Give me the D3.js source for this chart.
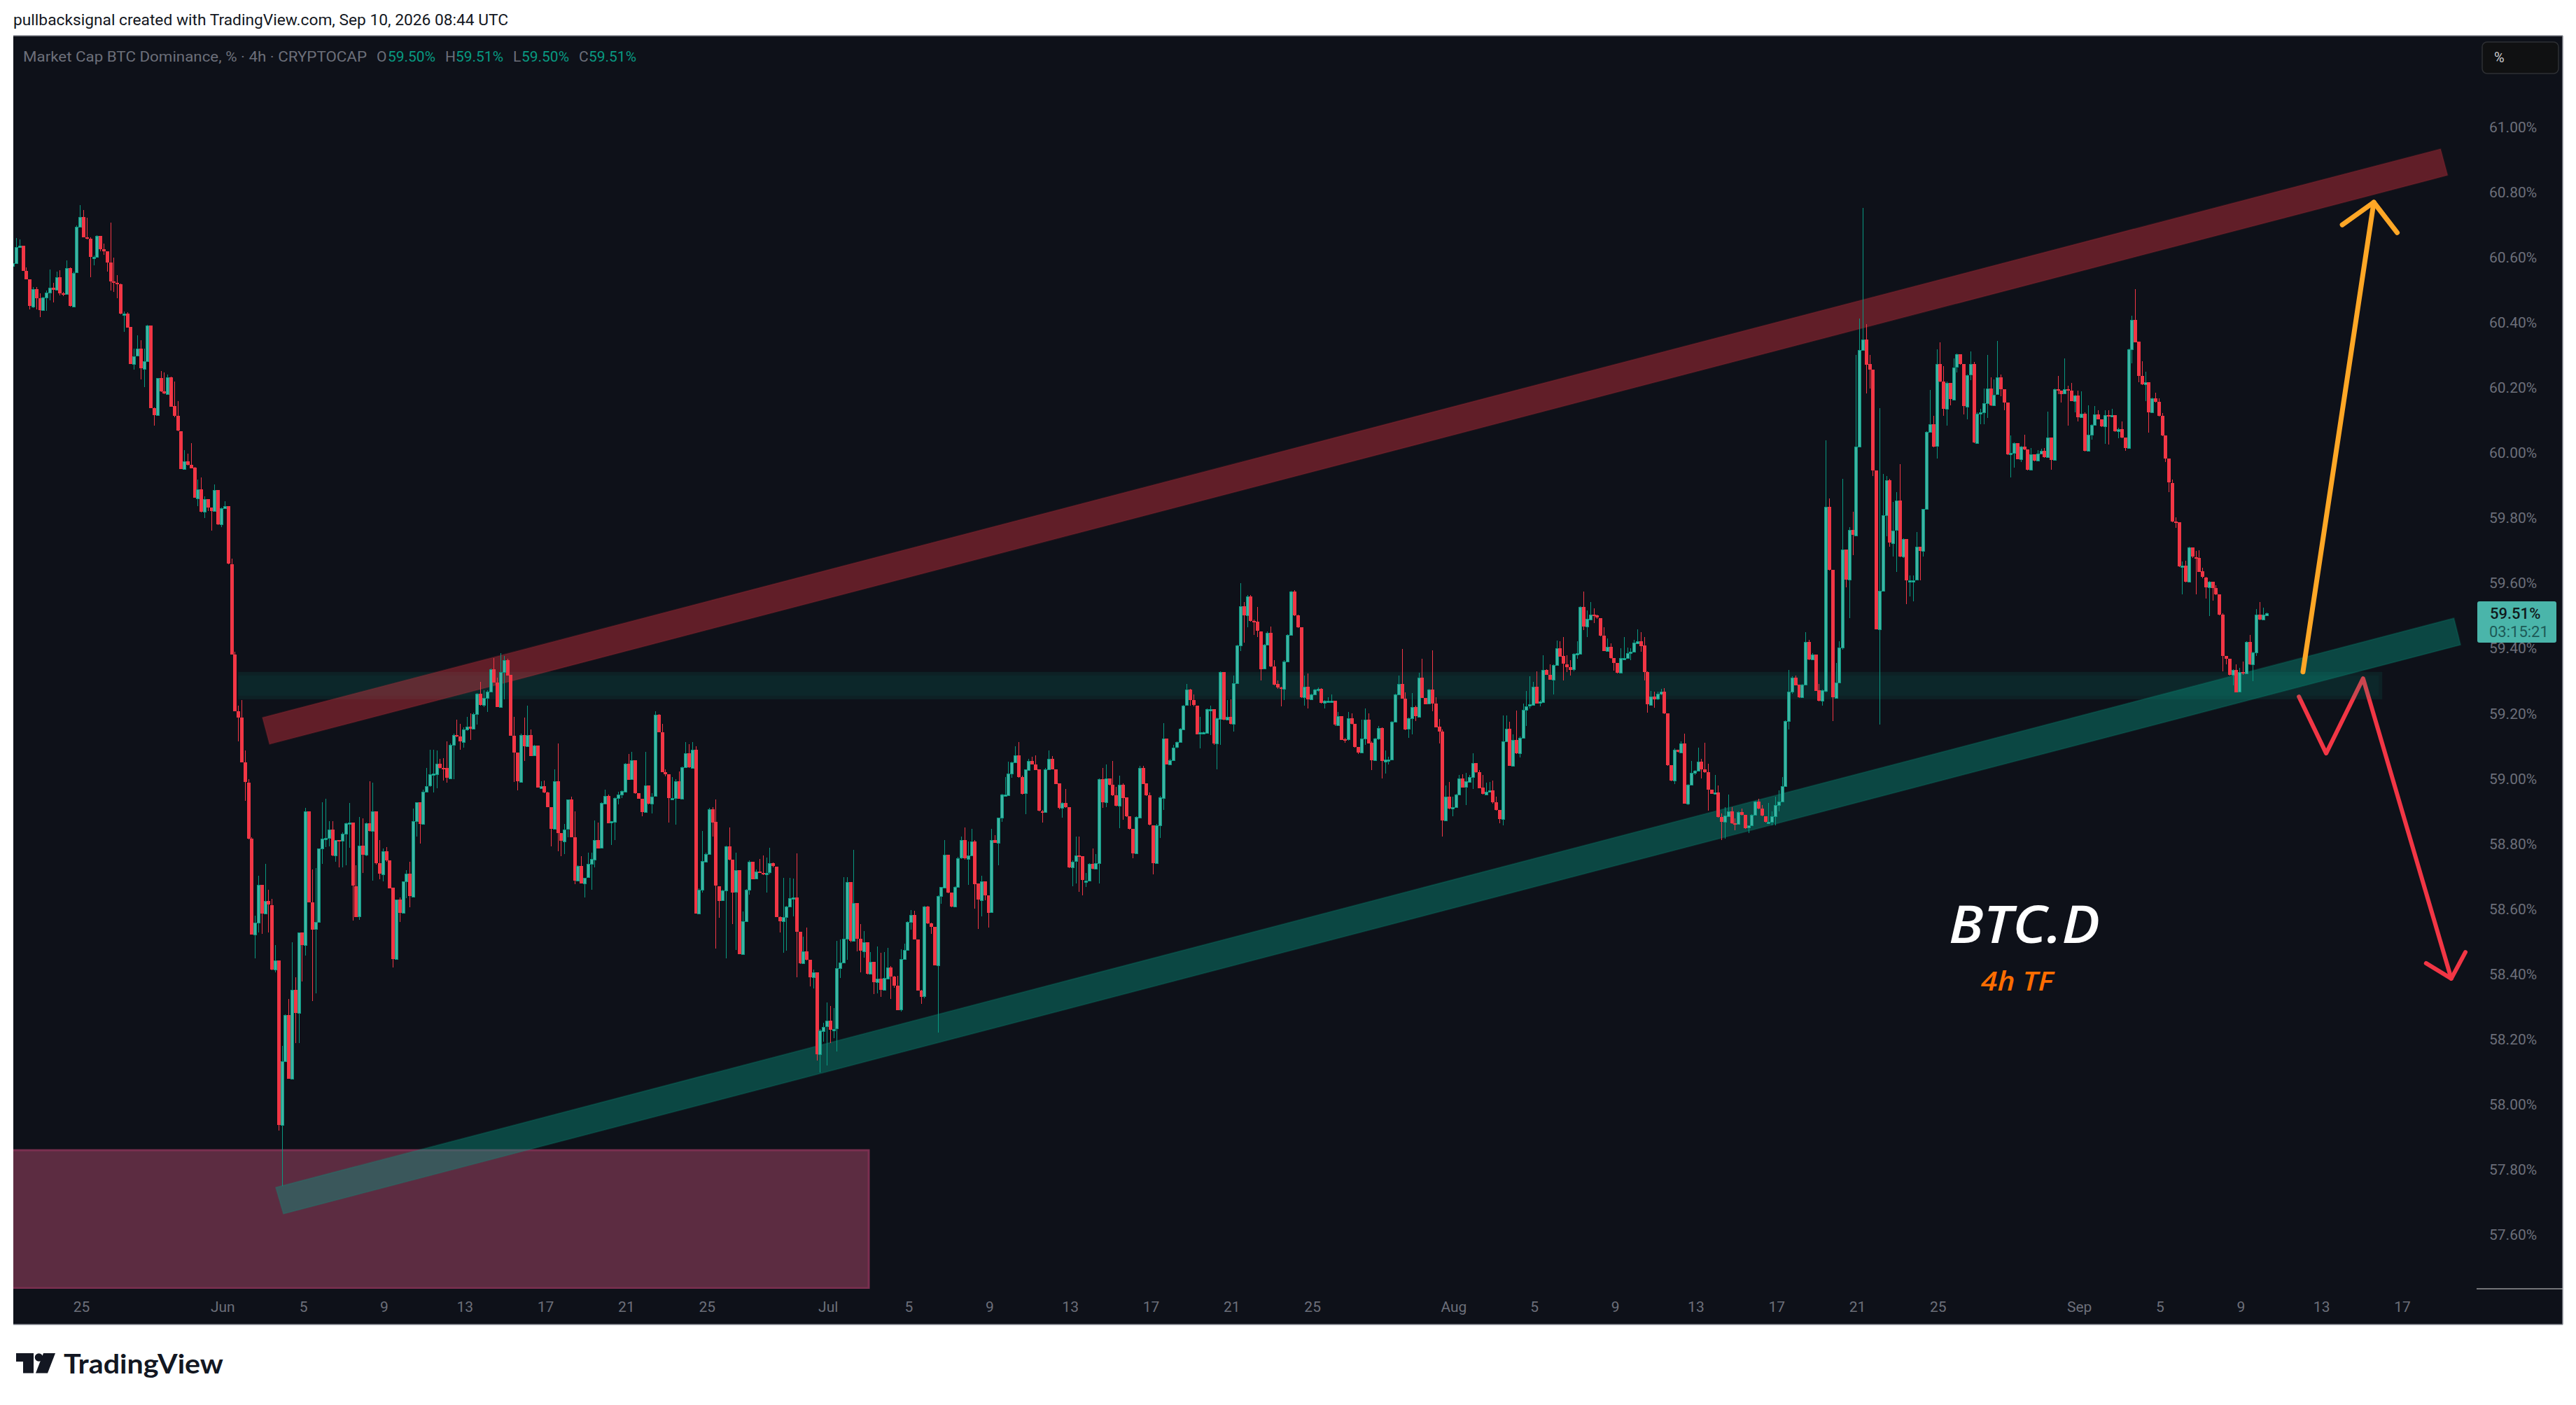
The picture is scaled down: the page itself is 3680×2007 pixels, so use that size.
<!DOCTYPE html>
<html><head><meta charset="utf-8">
<script src="https://cdn.jsdelivr.net/npm/d3@7"></script>
<style>html,body{margin:0;padding:0;background:#fff}svg{display:block}</style>
</head><body><svg id="c" width="3680" height="2007"></svg>
<script>
// ---------- candle data (%), 4h bars ----------
const firstOpen = 60.573;
const closesMay = [
60.581,60.631,60.634,60.557,60.531,60.449,60.502,60.473,60.437,60.476,
60.490,60.506,60.499,60.538,60.489,60.486,60.566,60.449,60.552,60.692,
60.722,60.660,60.657,60.601,60.601,60.665,60.624,60.617,60.583,60.526,
60.521,60.516,60.425,60.427,60.385,60.272,60.296,60.318,60.257,60.281,
60.390,60.136,60.114,60.228,60.188,60.181,60.232,60.142,60.112,60.066,
59.949,59.973,59.963,59.953,59.861,59.888,59.820,59.858,59.832,59.821,
59.885,59.780,59.829,59.835,59.658,59.380,59.207,59.187,59.049,58.988,
58.816];
const highsMay = [
60.584,60.658,60.655,60.634,60.569,60.532,60.507,60.509,60.488,60.478,
60.497,60.562,60.521,60.555,60.559,60.492,60.590,60.569,60.555,60.698,
60.759,60.745,60.721,60.660,60.605,60.668,60.665,60.641,60.617,60.706,
60.598,60.545,60.518,60.432,60.430,60.385,60.320,60.360,60.344,60.320,
60.392,60.390,60.138,60.229,60.250,60.246,60.239,60.234,60.219,60.157,
60.066,60.008,59.997,60.029,59.955,59.917,59.923,59.866,59.858,59.832,
59.902,59.885,59.832,59.850,59.835,59.674,59.389,59.223,59.241,59.087,
58.998];
const lowsMay = [
60.571,60.581,60.631,60.557,60.531,60.440,60.444,60.440,60.416,60.435,
60.435,60.468,60.461,60.497,60.483,60.480,60.486,60.447,60.449,60.552,
60.692,60.660,60.655,60.538,60.574,60.601,60.617,60.607,60.555,60.497,
60.492,60.473,60.425,60.371,60.385,60.272,60.255,60.296,60.224,60.200,
60.281,60.136,60.083,60.114,60.186,60.179,60.179,60.140,60.109,60.066,
59.949,59.949,59.960,59.953,59.861,59.835,59.816,59.799,59.820,59.760,
59.821,59.778,59.772,59.827,59.658,59.380,59.207,59.113,59.049,58.931,
58.813];

const closesJun = [
58.521,58.557,58.673,58.585,58.623,58.612,58.414,58.441,57.937,58.132,
58.274,58.079,58.351,58.281,58.527,58.489,58.900,58.620,58.537,58.559,
58.785,58.816,58.818,58.843,58.763,58.811,58.809,58.830,58.862,58.864,
58.670,58.575,58.793,58.766,58.862,58.838,58.899,58.739,58.706,58.776,
58.749,58.664,58.445,58.628,58.588,58.684,58.707,58.638,58.870,58.928,
58.862,58.960,58.977,59.012,59.014,59.046,59.033,59.032,59.001,59.104,
59.134,59.129,59.113,59.151,59.159,59.153,59.198,59.260,59.225,59.247,
59.266,59.335,59.295,59.220,59.327,59.364,59.317,59.130,59.079,58.990,
59.134,59.099,59.134,59.070,59.100,58.971,58.977,58.957,58.912,58.846,
58.992,58.832,58.808,58.844,58.935,58.819,58.686,58.732,58.679,58.696,
58.737,58.752,58.812,58.787,58.924,58.947,58.864,58.868,58.940,58.950,
58.961,59.046,58.996,59.055,58.955,58.938,58.897,58.979,58.923,58.945,
59.195,59.142,59.019,59.012,58.938,58.940,58.992,58.938,59.034,59.078,
59.034,59.089,58.586];
const highsJun = [
58.820,58.578,58.701,58.673,58.738,58.658,58.630,58.489,58.441,58.179,
58.276,58.323,58.497,58.390,58.527,58.527,58.910,58.900,58.721,58.725,
58.785,58.926,58.938,58.868,58.868,58.811,58.811,58.835,58.864,58.924,
58.864,58.734,58.881,58.878,58.864,58.991,58.988,58.899,58.811,58.785,
58.789,58.749,58.664,58.628,58.634,58.684,58.719,58.744,58.907,58.928,
58.928,58.965,59.032,59.089,59.089,59.086,59.060,59.062,59.113,59.108,
59.137,59.180,59.168,59.156,59.190,59.200,59.202,59.262,59.297,59.271,
59.271,59.337,59.370,59.310,59.384,59.377,59.367,59.317,59.190,59.079,
59.137,59.187,59.223,59.151,59.103,59.100,58.991,58.993,58.960,58.912,
59.027,59.108,58.832,58.861,58.936,58.944,58.899,58.734,58.761,58.696,
58.773,58.773,58.871,58.864,58.926,58.966,58.950,58.868,58.942,58.960,
58.964,59.048,59.075,59.081,59.055,58.954,58.938,59.081,58.979,58.955,
59.207,59.197,59.168,59.027,59.012,59.005,58.998,59.022,59.036,59.112,
59.105,59.112,59.098];
const lowsJun = [
58.521,58.448,58.528,58.523,58.583,58.528,58.412,58.405,57.919,57.750,
58.132,58.079,58.079,58.187,58.188,58.378,58.457,58.620,58.317,58.341,
58.559,58.738,58.790,58.792,58.762,58.745,58.728,58.728,58.734,58.787,
58.564,58.575,58.567,58.711,58.762,58.837,58.686,58.735,58.691,58.684,
58.744,58.662,58.420,58.445,58.560,58.585,58.632,58.605,58.638,58.821,
58.801,58.862,58.960,58.974,58.957,58.969,59.031,58.993,58.988,59.001,
58.998,59.127,59.089,59.094,59.147,59.118,59.153,59.166,59.223,59.219,
59.204,59.266,59.295,59.219,59.220,59.242,59.315,59.130,58.990,58.964,
58.990,59.054,59.099,59.070,59.070,58.971,58.971,58.955,58.912,58.792,
58.846,58.777,58.761,58.768,58.819,58.819,58.676,58.686,58.677,58.635,
58.696,58.659,58.727,58.787,58.787,58.924,58.862,58.795,58.811,58.921,
58.940,58.961,58.995,58.996,58.953,58.937,58.883,58.897,58.921,58.892,
58.945,59.142,59.019,59.007,58.864,58.938,58.859,58.937,58.938,59.032,
59.032,59.034,58.586];

const closesJul = [
58.658,58.746,58.769,58.906,58.866,58.670,58.625,58.656,58.791,58.751,
58.651,58.718,58.460,58.562,58.658,58.745,58.692,58.714,58.711,58.706,
58.711,58.739,58.730,58.575,58.562,58.575,58.607,58.633,58.635,58.529,
58.433,58.469,58.444,58.390,58.404,58.152,58.226,58.238,58.256,58.227,
58.232,58.417,58.434,58.507,58.681,58.500,58.617,58.508,58.471,58.498,
58.401,58.438,58.375,58.385,58.351,58.387,58.421,58.392,58.365,58.290,
58.445,58.473,58.559,58.581,58.505,58.349,58.330,58.606,58.555,58.545,
58.426,58.639,58.666,58.766,58.649,58.607,58.668,58.756,58.810,58.754,
58.764,58.807,58.677,58.627,58.685,58.642,58.589,58.810,58.802,58.879,
58.950,58.950,59.016,59.050,59.071,59.005,58.954,59.027,59.054,59.044,
59.027,58.900,58.898,59.029,59.061,59.029,58.984,58.908,58.924,58.912,
58.728,58.745,58.763,58.761,58.687,58.687,58.738,58.722,58.740,58.998,
58.927,59.000,58.980,58.948,58.916,58.981,58.941,58.884,58.845,58.770,
58.881,59.033,58.984,58.948,58.857,58.740,58.855,58.941,59.123,59.044,
59.056,59.095,59.111,59.152,59.224,59.272,59.240,59.224,59.136,59.141,
59.141,59.213,59.213,59.107,59.184,59.327,59.181,59.190,59.168,59.293,
59.408,59.529,59.500,59.558,59.483,59.481,59.452,59.337,59.411,59.447,
59.344,59.289,59.279,59.274,59.358,59.440,59.574,59.500,59.464,59.250,
59.282,59.243,59.258,59.272,59.274,59.231,59.238,59.238,59.238,59.164,
59.192,59.120,59.119,59.184,59.167,59.097,59.080,59.123,59.181,59.109,
59.056,59.123,59.155,59.053,59.059,59.059,59.174,59.258,59.291];
const highsJul = [
58.663,58.839,58.773,58.910,58.912,58.936,58.670,58.658,58.793,58.849,
58.751,58.773,58.718,58.591,58.660,58.749,58.745,58.721,58.754,58.764,
58.757,58.788,58.742,58.730,58.577,58.694,58.610,58.694,58.692,58.771,
58.529,58.514,58.543,58.444,58.414,58.404,58.231,58.250,58.312,58.302,
58.295,58.501,58.505,58.697,58.697,58.681,58.781,58.617,58.553,58.532,
58.498,58.467,58.438,58.484,58.465,58.467,58.480,58.424,58.394,58.394,
58.476,58.493,58.562,58.596,58.594,58.505,58.352,58.610,58.610,58.558,
58.545,58.642,58.668,58.812,58.766,58.649,58.670,58.759,58.821,58.849,
58.807,58.845,58.812,58.677,58.701,58.685,58.642,58.845,58.826,58.879,
58.953,59.004,59.051,59.052,59.099,59.111,59.008,59.029,59.061,59.066,
59.071,59.027,58.903,59.032,59.085,59.068,59.029,58.984,58.927,58.967,
58.912,58.749,58.821,58.822,58.761,58.711,58.740,58.785,58.769,58.999,
59.032,59.044,59.001,59.053,58.975,59.008,58.984,58.941,58.884,58.845,
58.884,59.039,59.039,58.984,58.956,58.857,58.860,58.946,59.169,59.123,
59.061,59.104,59.114,59.154,59.226,59.291,59.275,59.258,59.224,59.190,
59.144,59.215,59.224,59.213,59.186,59.328,59.327,59.241,59.243,59.315,
59.411,59.600,59.541,59.563,59.563,59.488,59.526,59.452,59.413,59.451,
59.466,59.363,59.301,59.282,59.363,59.442,59.576,59.577,59.502,59.464,
59.315,59.322,59.260,59.275,59.279,59.277,59.240,59.250,59.258,59.238,
59.205,59.192,59.125,59.205,59.200,59.167,59.097,59.180,59.214,59.200,
59.114,59.125,59.162,59.157,59.085,59.066,59.176,59.260,59.315];
const lowsJul = [
58.586,58.649,58.745,58.767,58.821,58.478,58.572,58.623,58.447,58.749,
58.553,58.473,58.460,58.471,58.562,58.644,58.690,58.690,58.709,58.704,
58.649,58.706,58.728,58.575,58.527,58.465,58.471,58.607,58.577,58.390,
58.431,58.431,58.442,58.361,58.356,58.134,58.098,58.193,58.120,58.189,
58.204,58.163,58.388,58.433,58.444,58.498,58.500,58.469,58.404,58.451,
58.399,58.401,58.338,58.340,58.330,58.351,58.387,58.324,58.358,58.290,
58.285,58.445,58.473,58.535,58.505,58.349,58.308,58.326,58.553,58.523,
58.426,58.220,58.615,58.666,58.647,58.605,58.605,58.668,58.754,58.751,
58.673,58.761,58.601,58.538,58.577,58.627,58.543,58.589,58.802,58.733,
58.866,58.946,58.950,59.002,59.047,59.003,58.951,58.890,59.025,59.042,
59.025,58.898,58.864,58.896,59.029,59.027,58.984,58.906,58.879,58.910,
58.725,58.670,58.677,58.651,58.641,58.668,58.687,58.720,58.722,58.677,
58.910,58.912,58.978,58.946,58.914,58.847,58.874,58.882,58.843,58.756,
58.770,58.881,58.984,58.946,58.855,58.706,58.740,58.818,58.903,59.042,
59.042,59.056,59.092,59.109,59.152,59.224,59.224,59.222,59.135,59.092,
59.138,59.141,59.133,59.104,59.029,59.104,59.179,59.179,59.166,59.143,
59.291,59.392,59.416,59.464,59.481,59.440,59.435,59.301,59.337,59.411,
59.342,59.286,59.275,59.222,59.240,59.358,59.440,59.499,59.462,59.248,
59.224,59.214,59.241,59.256,59.267,59.229,59.214,59.231,59.236,59.162,
59.162,59.119,59.109,59.116,59.165,59.095,59.075,59.085,59.104,59.107,
59.025,59.054,59.119,59.000,59.015,59.042,59.059,59.174,59.258];

const closesAug = [
59.245,59.151,59.184,59.219,59.190,59.310,59.248,59.229,59.273,59.230,
59.158,59.143,58.870,58.944,58.907,58.911,58.950,59.000,58.973,58.991,
59.005,59.047,59.020,58.971,58.952,58.960,58.963,58.926,58.903,58.876,
59.114,59.153,59.040,59.119,59.078,59.125,59.211,59.222,59.227,59.282,
59.231,59.236,59.334,59.319,59.304,59.349,59.400,59.375,59.351,59.342,
59.334,59.382,59.384,59.527,59.466,59.489,59.503,59.500,59.493,59.439,
59.392,59.404,59.369,59.355,59.324,59.370,59.370,59.384,59.388,59.416,
59.422,59.408,59.326,59.227,59.252,59.244,59.259,59.266,59.199,59.040,
58.993,59.088,59.081,59.108,58.923,58.981,59.018,59.024,59.051,59.028,
59.020,58.966,58.954,58.956,58.881,58.866,58.886,58.900,58.863,58.860,
58.897,58.888,58.848,58.855,58.888,58.929,58.907,58.885,58.867,58.867,
58.885,58.919,58.930,58.977,59.176,59.267,59.310,59.287,59.248,59.287,
59.418,59.365,59.381,59.270,59.238,59.270,59.834,59.640,59.248,59.295,
59.402,59.703,59.610,59.762,59.747];
const highsAug = [
59.398,59.264,59.186,59.262,59.223,59.324,59.367,59.248,59.274,59.394,
59.250,59.182,59.151,58.978,58.989,58.945,58.952,59.011,59.012,59.018,
59.010,59.077,59.048,59.026,59.010,58.987,58.990,58.993,58.944,58.903,
59.194,59.193,59.173,59.135,59.209,59.129,59.229,59.268,59.314,59.297,
59.328,59.240,59.379,59.336,59.351,59.351,59.423,59.421,59.435,59.379,
59.363,59.384,59.421,59.529,59.573,59.515,59.542,59.523,59.503,59.493,
59.463,59.429,59.414,59.369,59.355,59.400,59.435,59.402,59.400,59.425,
59.457,59.449,59.433,59.328,59.268,59.267,59.267,59.275,59.277,59.199,
59.040,59.092,59.089,59.114,59.137,58.983,59.053,59.026,59.094,59.060,
59.110,59.045,58.966,59.011,58.978,58.893,58.911,58.950,58.911,58.878,
58.899,58.907,58.888,58.857,58.890,58.931,58.938,58.919,58.885,58.925,
58.899,58.944,58.964,59.005,59.178,59.334,59.314,59.315,59.287,59.291,
59.449,59.426,59.384,59.381,59.289,59.273,60.038,59.860,59.640,59.355,
59.421,59.919,59.703,59.772,59.819];
const lowsAug = [
59.244,59.149,59.125,59.135,59.176,59.190,59.246,59.227,59.230,59.207,
59.156,59.108,58.822,58.870,58.905,58.885,58.911,58.950,58.971,58.919,
58.990,58.968,59.018,58.969,58.950,58.950,58.960,58.923,58.901,58.863,
58.855,59.114,59.038,59.040,59.076,59.065,59.125,59.162,59.215,59.227,
59.230,59.221,59.236,59.317,59.302,59.258,59.349,59.373,59.301,59.326,
59.315,59.329,59.367,59.384,59.456,59.433,59.489,59.476,59.490,59.437,
59.390,59.390,59.367,59.330,59.322,59.324,59.367,59.367,59.363,59.386,
59.415,59.389,59.300,59.203,59.225,59.218,59.240,59.256,59.197,59.038,
58.991,58.982,59.079,59.080,58.922,58.919,58.981,59.010,59.024,59.001,
59.018,58.901,58.952,58.954,58.879,58.810,58.816,58.886,58.861,58.841,
58.858,58.886,58.845,58.833,58.854,58.887,58.905,58.883,58.865,58.865,
58.857,58.855,58.900,58.930,58.977,59.151,59.259,59.285,59.246,59.246,
59.287,59.364,59.365,59.268,59.236,59.223,59.264,59.638,59.176,59.246,
59.293,59.396,59.587,59.492,59.685];

const closesSep = [
60.019,60.315,60.348,60.271,60.254,59.945,59.457,59.575,59.807,59.915,
59.723,59.761,59.852,59.681,59.734,59.607,59.608,59.608,59.710,59.697,
59.826,60.063,60.087,60.019,60.271,60.218,60.134,60.214,60.164,60.262,
60.301,60.271,60.142,60.238,60.271,60.030,60.120,60.123,60.151,60.197,
60.145,60.178,60.230,60.194,60.153,59.994,59.999,60.030,59.981,60.019,
60.010,59.947,59.994,59.975,59.997,60.005,59.986,60.046,59.978,60.194,
60.191,60.181,60.194,60.191,60.159,60.176,60.109,60.120,60.006,60.055,
60.085,60.118,60.103,60.081,60.115,60.112,60.115,60.065,60.072,60.046,
60.014,60.317,60.408,60.340,60.235,60.209,60.216,60.123,60.166,60.155,
60.112,60.052,59.981,59.907,59.788,59.786,59.650,59.652,59.603,59.708,
59.679,59.677,59.635,59.617,59.586,59.603,59.584,59.564,59.502,59.376,
59.367,59.318,59.334,59.266,59.326,59.322,59.418,59.350,59.386,59.502,
59.487,59.502,59.508];
const highsSep = [
60.299,60.411,60.750,60.395,60.299,60.254,59.945,60.137,59.934,59.928,
59.920,59.849,59.879,59.964,59.736,59.734,59.624,59.622,59.756,59.710,
59.828,60.065,60.192,60.112,60.317,60.339,60.266,60.218,60.214,60.290,
60.304,60.301,60.271,60.240,60.310,60.279,60.123,60.134,60.197,60.299,
60.231,60.225,60.342,60.240,60.194,60.153,60.052,60.032,60.030,60.021,
60.055,60.010,60.014,59.994,60.008,60.012,60.014,60.126,60.046,60.196,
60.236,60.191,60.288,60.205,60.213,60.178,60.191,60.187,60.123,60.145,
60.087,60.142,60.131,60.103,60.129,60.131,60.134,60.115,60.076,60.096,
60.046,60.320,60.420,60.501,60.340,60.280,60.249,60.216,60.168,60.183,
60.167,60.121,60.052,59.981,59.918,59.802,59.786,59.666,59.668,59.710,
59.708,59.699,59.701,59.646,59.619,59.605,59.603,59.592,59.564,59.506,
59.376,59.367,59.336,59.351,59.340,59.359,59.420,59.440,59.388,59.520,
59.541,59.524,59.509];
const lowsSep = [
59.747,60.019,60.315,60.181,60.197,59.928,59.457,59.166,59.575,59.743,
59.712,59.681,59.633,59.679,59.677,59.535,59.559,59.544,59.608,59.608,
59.681,59.826,60.063,60.017,59.981,60.216,60.112,60.082,60.145,60.164,
60.246,60.269,60.118,60.103,60.222,60.028,60.030,60.087,60.088,60.107,
60.143,60.145,60.178,60.172,60.131,59.992,59.924,59.953,59.979,59.970,
60.008,59.945,59.947,59.973,59.975,59.995,59.984,59.986,59.948,59.978,
60.180,60.154,60.181,60.083,60.157,60.123,60.096,60.107,60.004,60.006,
60.039,60.082,60.101,60.079,60.027,60.025,60.111,60.063,60.044,60.044,
60.005,60.014,60.274,60.338,60.216,60.207,60.158,60.061,60.121,60.153,
60.110,60.050,59.970,59.879,59.786,59.769,59.648,59.566,59.601,59.603,
59.677,59.564,59.633,59.615,59.553,59.498,59.546,59.562,59.500,59.329,
59.350,59.316,59.285,59.264,59.266,59.318,59.322,59.348,59.298,59.375,
59.485,59.487,59.500];

// ---------- axes ----------
const priceTicks = [61,60.8,60.6,60.4,60.2,60,59.8,59.6,59.4,59.2,59,58.8,58.6,58.4,58.2,58,57.8,57.6];
const timeTickDays = [0,7,11,15,19,23,27,31,37,41,45,49,53,57,61,68,72,76,80,84,88,92,99,103,107,111,115];
const timeTickLabels = ["25","Jun","5","9","13","17","21","25","Jul","5","9","13","17","21","25","Aug","5","9","13","17","21","25","Sep","5","9","13","17"];

// ---------- drawings [days since 25 May, price] ----------
const resistanceChannel = [[9.04,59.187],[116.97,60.932],[117.32,60.851],[9.39,59.105]];
const supportChannel = [[9.70,57.745],[117.63,59.492],[117.96,59.410],[10.08,57.664]];
const flipZone = {d0:7.83,d1:114.08,p0:59.327,p1:59.243};
const demandBox = {d0:-5,d1:39.08,p0:57.859,p1:57.436};
const bullArrow = [[110.15,59.327],[113.66,60.768]];
const bullHead = [[112.1,60.699],[113.66,60.768],[114.82,60.675]];
const bearPath = [[109.95,59.251],[111.3,59.077],[113.13,59.307],[117.5,58.386]];
const bearHead = [[116.25,58.433],[117.5,58.386],[118.2,58.467]];

// ---------- assemble ----------
const closes = [].concat(closesMay,closesJun,closesJul,closesAug,closesSep);
const highs = [].concat(highsMay,highsJun,highsJul,highsAug,highsSep);
const lows = [].concat(lowsMay,lowsJun,lowsJul,lowsAug,lowsSep);
const lastDay = 108 + 8/24;           // Sep 10 08:00
const N = closes.length;
const candles = closes.map((c,i)=>({
  day:lastDay-(N-1-i)/6, o:i?closes[i-1]:firstOpen, c, h:highs[i], l:lows[i]}));

const PL=19,PR=3661,PT=51,PB=1892,AXIS=3538,TIMEY=1841;
const x = d3.scaleLinear().domain([0,108]).range([114.3,114.3+108*28.83]);
const y = d3.scaleLinear().domain([61,57.6]).range([181,181+3.4*465.5]);

const svg = d3.select('#c');
const BG='#0e1119', UP='#089981', UPF='#3fb3a3', DN='#f23645', GREY='#6c6f7a';
svg.append('rect').attr('width',3680).attr('height',2007).attr('fill','#fff');
svg.append('rect').attr('x',PL).attr('y',PT).attr('width',PR-PL).attr('height',PB-PT).attr('fill',BG);
svg.append('defs').append('clipPath').attr('id','plot').append('rect')
  .attr('x',PL).attr('y',PT).attr('width',AXIS-PL+140).attr('height',TIMEY-PT);
// frame
const frame=svg.append('g').attr('stroke','#8a8d96').attr('stroke-width',1.5);
frame.append('line').attr('x1',PL).attr('x2',PR).attr('y1',PT).attr('y2',PT);
frame.append('line').attr('x1',PL).attr('x2',PR).attr('y1',PB).attr('y2',PB);
frame.append('line').attr('x1',PR).attr('x2',PR).attr('y1',PT).attr('y2',PB);
svg.append('line').attr('x1',AXIS).attr('x2',PR).attr('y1',TIMEY).attr('y2',TIMEY).attr('stroke','#d8d8d8').attr('stroke-width',1.2);

const plot = svg.append('g').attr('clip-path','url(#plot)');
const poly = pts => d3.line().x(p=>x(p[0])).y(p=>y(p[1]))(pts)+'Z';
const open = pts => d3.line().x(p=>x(p[0])).y(p=>y(p[1]))(pts);

// demand box
plot.append('rect').attr('x',x(demandBox.d0)).attr('y',y(demandBox.p0))
  .attr('width',x(demandBox.d1)-x(demandBox.d0)).attr('height',y(demandBox.p1)-y(demandBox.p0))
  .attr('fill','rgba(209,85,125,.4)').attr('stroke','#7a2f50').attr('stroke-width',3);

// bearish zigzag lies under the green drawings
const stroke = (pts,col,w)=>plot.append('path').attr('d',open(pts)).attr('fill','none').attr('stroke',col)
  .attr('stroke-width',w).attr('stroke-linecap','round').attr('stroke-linejoin','round');
stroke(bearPath,DN,6); stroke(bearHead,DN,6);

// flip zone
plot.append('rect').attr('x',x(flipZone.d0)).attr('y',y(flipZone.p0))
  .attr('width',x(flipZone.d1)-x(flipZone.d0)).attr('height',y(flipZone.p1)-y(flipZone.p0))
  .attr('fill','rgba(8,153,129,.12)');
plot.append('rect').attr('x',x(flipZone.d0)).attr('y',y(flipZone.p0)+5)
  .attr('width',x(flipZone.d1)-x(flipZone.d0)-5).attr('height',y(flipZone.p1)-y(flipZone.p0)-10)
  .attr('fill','rgba(8,153,129,.05)');

// channels
plot.append('path').attr('d',poly(resistanceChannel)).attr('fill','rgba(242,54,69,.37)').attr('stroke','rgba(242,54,69,.12)').attr('stroke-width',2);
plot.append('path').attr('d',poly(supportChannel)).attr('fill','rgba(8,153,129,.4)').attr('stroke','rgba(8,153,129,.2)').attr('stroke-width',2);

// bullish arrow
stroke(bullArrow,'#ffa726',7); stroke(bullHead,'#ffa726',7);

// candles, snapped to whole pixels
const BW=5;
const px = d=>Math.round(x(d.day));
const cg = plot.append('g').attr('shape-rendering','crispEdges');
cg.selectAll('line').data(candles).join('line')
  .attr('x1',d=>px(d)+.5).attr('x2',d=>px(d)+.5).attr('y1',d=>y(d.h)).attr('y2',d=>y(d.l))
  .attr('stroke',d=>d.c>=d.o?UP:DN).attr('stroke-width',1);
cg.selectAll('rect').data(candles).join('rect')
  .attr('x',d=>px(d)-2+(d.c>=d.o?.5:0))
  .attr('width',d=>d.c>=d.o?BW-1:BW)
  .attr('y',d=>Math.round(y(Math.max(d.o,d.c)))+(d.c>=d.o?.5:0))
  .attr('height',d=>Math.max(2,Math.round(Math.abs(y(d.o)-y(d.c)))))
  .attr('fill',d=>d.c>=d.o?UPF:DN)
  .attr('stroke',d=>d.c>=d.o?UP:'none').attr('stroke-width',1);

// price axis
const yAxis = d3.axisRight(y).tickValues(priceTicks).tickSize(0).tickPadding(0).tickFormat(v=>d3.format('.2f')(v)+'%');
const ya = svg.append('g').attr('transform',`translate(3556,0)`).call(yAxis);
ya.select('.domain').remove();
ya.selectAll('text').attr('fill',GREY).attr('font-family','Roboto').attr('font-size',21).attr('dy','.34em');

// time axis
const xAxis = d3.axisBottom(x).tickValues(timeTickDays).tickSize(0).tickPadding(0)
  .tickFormat(d=>timeTickLabels[timeTickDays.indexOf(d)]);
const xa = svg.append('g').attr('transform',`translate(1.7,1867)`).call(xAxis);
xa.select('.domain').remove();
xa.selectAll('text').attr('fill',GREY).attr('font-family','Roboto').attr('font-size',21).attr('dy','.34em');

// price label
svg.append('rect').attr('x',3539).attr('y',859).attr('width',113).attr('height',59).attr('rx',3).attr('fill','#4ab5aa');
const T=(s,xx,yy,size,col,extra={})=>{const t=svg.append('text').attr('x',xx).attr('y',yy).text(s)
  .attr('font-family',extra.family||'Roboto').attr('font-size',size).attr('fill',col);
  for(const k in extra) if(k!=='family') t.attr(k,extra[k]); return t;};
T('59.51%',3557,884,22,'#101a1c',{'font-weight':500});
T('03:15:21',3556,910,22,'#1d5a57');

// % button
svg.append('rect').attr('x',3546).attr('y',60).attr('width',109).attr('height',45).attr('rx',7).attr('fill','#101112').attr('stroke','#2e3034').attr('stroke-width',1.5);
T('%',3563,89,20,'#c9cacf');

// legend
T('Market Cap BTC Dominance, % · 4h · CRYPTOCAP',33,88,21,GREY,{textLength:491,lengthAdjust:'spacingAndGlyphs'});
[['O',538,'59.50%',554],['H',636,'59.51%',651],['L',733,'59.50%',745],['C',827,'59.51%',841]].forEach(r=>{
  T(r[0],r[1],88,21,GREY); T(r[2],r[3],88,21,UP,{textLength:68,lengthAdjust:'spacingAndGlyphs'});
});

// header
T('pullbacksignal created with TradingView.com, Sep 10, 2026 08:44 UTC',19,36,22,'#131722',{textLength:707,lengthAdjust:'spacingAndGlyphs'});

// titles
T('BTC.D',2784,1347,74,'#ffffff',{family:'Open Sans','font-style':'italic','font-weight':600,textLength:216,lengthAdjust:'spacingAndGlyphs'});
T('4h TF',2830,1415,38,'#ff6d00',{family:'Open Sans','font-style':'italic','font-weight':600,textLength:103,lengthAdjust:'spacingAndGlyphs'});

// logo
const logo=svg.append('g').attr('fill','#131722');
logo.append('path').attr('d','M23 1933H48V1961.5H33V1945H23Z');
logo.append('circle').attr('cx',55.5).attr('cy',1939).attr('r',5.8);
logo.append('path').attr('d','M62 1933H79L68 1961.5H51Z');
T('TradingView',91,1962,38,'#131722',{family:'Lato','font-weight':700,textLength:228,lengthAdjust:'spacingAndGlyphs'});
</script></body></html>
